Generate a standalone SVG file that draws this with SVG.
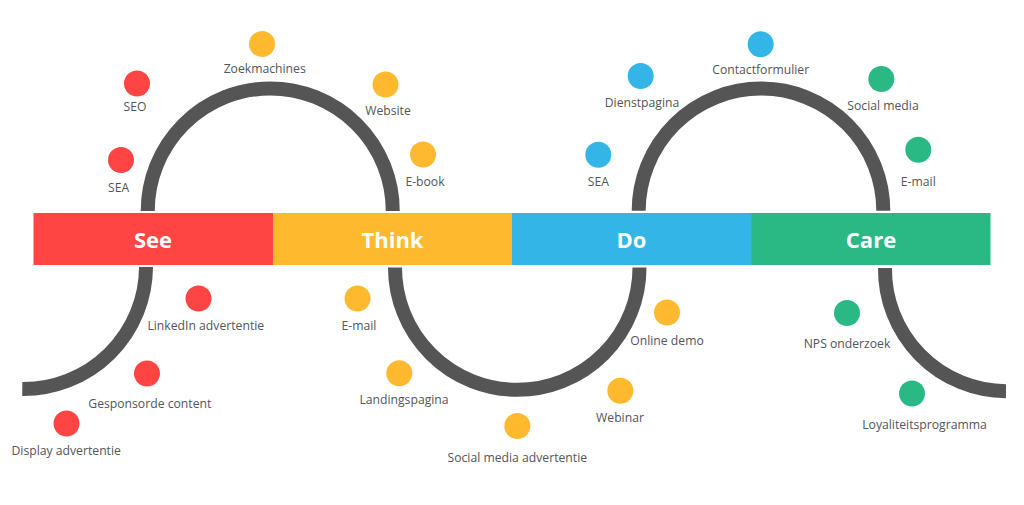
<svg xmlns="http://www.w3.org/2000/svg" width="1024" height="505" viewBox="0 0 1024 505">
<style>
.c{fill:none;stroke:#555555;stroke-width:14}
.l{font-family:"Open Sans",sans-serif;font-size:12.2px;fill:#54545a;text-anchor:middle}
.h{font-family:"Open Sans",sans-serif;font-size:22px;font-weight:700;fill:#fff;text-anchor:middle}
.r{fill:#ff4444}.y{fill:#ffb92e}.b{fill:#33b5e8}.g{fill:#2ab985}
</style>
<rect width="1024" height="505" fill="#fff"/>
<g id="connectors">
<path class="c" d="M147.750 211A122.500 122.500 0 0 1 392.750 211"/>
<path class="c" d="M638.700 210.800A122.300 122.300 0 0 1 883.300 210.800"/>
<path class="c" d="M395 268V267.500A122.250 122.250 0 0 0 639.500 267.500V268"/>
<path class="c" d="M146 267A122.500 122.500 0 0 1 22.300 389"/>
<path class="c" d="M885 268A122 122 0 0 0 1006 391.300"/>
</g>
<g id="see"><rect class="r" x="33.500" y="213" width="240" height="52"/><text class="h" x="153" y="248">See</text></g>
<g id="think"><rect class="y" x="273" y="213" width="239" height="52"/><text class="h" x="392.500" y="248">Think</text></g>
<g id="do"><rect class="b" x="512" y="213" width="240" height="52"/><text class="h" x="631.500" y="248">Do</text></g>
<g id="care"><rect class="g" x="751.500" y="213" width="239" height="52"/><text class="h" x="871" y="248">Care</text></g>
<g id="n1"><circle class="r" cx="137" cy="83.500" r="13"/><text class="l" x="135" y="111.300">SEO</text></g>
<g id="n2"><circle class="r" cx="121" cy="160" r="13"/><text class="l" x="118.700" y="192.300">SEA</text></g>
<g id="n3"><circle class="y" cx="262" cy="44" r="13"/><text class="l" x="264.700" y="73">Zoekmachines</text></g>
<g id="n4"><circle class="y" cx="385.500" cy="84.500" r="13"/><text class="l" x="388" y="115.300">Website</text></g>
<g id="n5"><circle class="y" cx="423" cy="154.500" r="13"/><text class="l" x="425" y="186">E-book</text></g>
<g id="n6"><circle class="b" cx="640.700" cy="76" r="13"/><text class="l" x="642" y="107">Dienstpagina</text></g>
<g id="n7"><circle class="b" cx="598.300" cy="154.700" r="13"/><text class="l" x="598.300" y="185.700">SEA</text></g>
<g id="n8"><circle class="b" cx="760.700" cy="44.300" r="13"/><text class="l" x="760.700" y="74.300">Contactformulier</text></g>
<g id="n9"><circle class="g" cx="881.300" cy="79" r="13"/><text class="l" x="883" y="109.700">Social media</text></g>
<g id="n10"><circle class="g" cx="918.300" cy="149.700" r="13"/><text class="l" x="918.300" y="185.700">E-mail</text></g>
<g id="n11"><circle class="r" cx="198.500" cy="298.500" r="13"/><text class="l" x="205.800" y="330">LinkedIn advertentie</text></g>
<g id="n12"><circle class="r" cx="147" cy="373.500" r="13"/><text class="l" x="149.800" y="407.700">Gesponsorde content</text></g>
<g id="n13"><circle class="r" cx="66.500" cy="423.500" r="13"/><text class="l" x="66.200" y="455">Display advertentie</text></g>
<g id="n14"><circle class="y" cx="357.500" cy="298.500" r="13"/><text class="l" x="359" y="330">E-mail</text></g>
<g id="n15"><circle class="y" cx="399.300" cy="373.300" r="13"/><text class="l" x="404" y="403.500">Landingspagina</text></g>
<g id="n16"><circle class="y" cx="517.300" cy="426" r="13"/><text class="l" x="517.300" y="461.700">Social media advertentie</text></g>
<g id="n17"><circle class="y" cx="620.300" cy="390.700" r="13"/><text class="l" x="620" y="422.300">Webinar</text></g>
<g id="n18"><circle class="y" cx="667" cy="312.500" r="13"/><text class="l" x="667" y="345.300">Online demo</text></g>
<g id="n19"><circle class="g" cx="847" cy="313" r="13"/><text class="l" x="847" y="348.300">NPS onderzoek</text></g>
<g id="n20"><circle class="g" cx="912" cy="393.500" r="13"/><text class="l" x="924.500" y="429">Loyaliteitsprogramma</text></g>
</svg>
